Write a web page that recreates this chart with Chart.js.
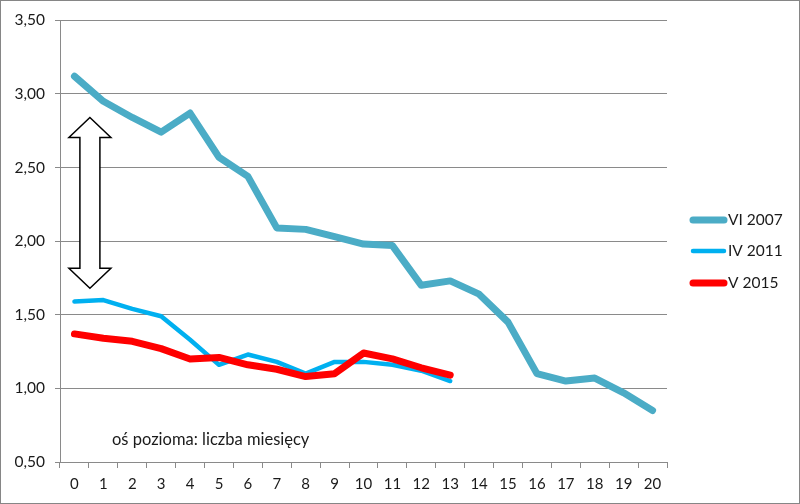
<!DOCTYPE html>
<html>
<head>
<meta charset="utf-8">
<script src="https://cdn.jsdelivr.net/npm/chart.js@4.4.1/dist/chart.umd.min.js"></script>
<style>
  html, body { margin: 0; padding: 0; background: #fff; }
  #wrap { width: 798px; height: 502px; border: 1px solid #868686; }
</style>
</head>
<body>
<div id="wrap"><canvas id="chart" width="798" height="502"></canvas></div>
<script>
const months = ['0','1','2','3','4','5','6','7','8','9','10','11','12','13','14','15','16','17','18','19','20'];
const vi2007 = [3.12, 2.95, 2.84, 2.74, 2.87, 2.57, 2.44, 2.09, 2.08, 2.03, 1.98, 1.97, 1.70, 1.73, 1.64, 1.45, 1.10, 1.05, 1.07, 0.97, 0.85];
const iv2011 = [1.59, 1.60, 1.54, 1.49, 1.33, 1.16, 1.23, 1.18, 1.10, 1.18, 1.18, 1.16, 1.12, 1.05];
const v2015 = [1.37, 1.34, 1.32, 1.27, 1.20, 1.21, 1.16, 1.13, 1.08, 1.10, 1.24, 1.20, 1.14, 1.09];
const yTicks = { min: 0.5, max: 3.5, step: 0.5 };
const note = 'oś pozioma: liczba miesięcy';
const arrowRange = [2.84, 1.68]; // range of the double arrow, in y units

const FONT = 'Lato, "Open Sans", sans-serif';
const TEXT = '#1a1a1a';
const GRID = '#8a8a8a';

// custom legend, arrow and note
const extras = {
  id: 'extras',
  afterDraw(chart) {
    const ctx = chart.ctx;
    const x = chart.scales.x, y = chart.scales.y;

    // double arrow
    const cx = (x.getPixelForValue(0) + x.getPixelForValue(1)) / 2 + 1;
    const top = y.getPixelForValue(arrowRange[0]);
    const bot = y.getPixelForValue(arrowRange[1]);
    const hw = 21, sw = 10, hh = 20;
    ctx.save();
    ctx.beginPath();
    ctx.moveTo(cx, top);
    ctx.lineTo(cx + hw, top + hh);
    ctx.lineTo(cx + sw, top + hh);
    ctx.lineTo(cx + sw, bot - hh);
    ctx.lineTo(cx + hw, bot - hh);
    ctx.lineTo(cx, bot);
    ctx.lineTo(cx - hw, bot - hh);
    ctx.lineTo(cx - sw, bot - hh);
    ctx.lineTo(cx - sw, top + hh);
    ctx.lineTo(cx - hw, top + hh);
    ctx.closePath();
    ctx.fillStyle = '#fff';
    ctx.fill();
    ctx.lineWidth = 1.5;
    ctx.strokeStyle = '#000';
    ctx.stroke();

    // note text
    ctx.fillStyle = TEXT;
    ctx.font = '16.5px ' + FONT;
    ctx.textBaseline = 'middle';
    ctx.textAlign = 'left';
    ctx.fillText(note, 111, 439);

    // legend
    ctx.font = '15.5px ' + FONT;
    const rows = [219, 250, 282];
    chart.data.datasets.forEach((ds, i) => {
      ctx.beginPath();
      ctx.lineCap = 'round';
      ctx.lineWidth = ds.borderWidth;
      ctx.strokeStyle = ds.borderColor;
      ctx.moveTo(692, rows[i]);
      ctx.lineTo(723, rows[i]);
      ctx.stroke();
      ctx.fillStyle = TEXT;
      ctx.fillText(ds.label, 727, rows[i]);
    });
    ctx.restore();
  }
};

new Chart(document.getElementById('chart'), {
  type: 'line',
  data: {
    labels: months,
    datasets: [
      { label: 'VI 2007', data: vi2007, borderColor: '#4BACC6', borderWidth: 7, order: 3 },
      { label: 'IV 2011', data: iv2011, borderColor: '#00B0F0', borderWidth: 4.5, order: 2 },
      { label: 'V 2015', data: v2015, borderColor: '#FF0000', borderWidth: 7, order: 1 }
    ].map(d => Object.assign(d, {
      pointRadius: 0, tension: 0, fill: false,
      borderJoinStyle: 'round', borderCapStyle: 'round'
    }))
  },
  options: {
    responsive: false,
    animation: false,
    layout: { padding: { top: 19, right: 132, left: 0, bottom: 0 } },
    plugins: { legend: { display: false }, tooltip: { enabled: false } },
    scales: {
      x: {
        offset: true,
        grid: { offset: true, drawOnChartArea: false, drawTicks: true, tickLength: 6, color: GRID },
        border: { color: GRID },
        ticks: { color: TEXT, font: { family: FONT, size: 15 }, padding: 7, maxRotation: 0 },
        afterFit(scale) { scale.height = 41; }
      },
      y: {
        min: yTicks.min, max: yTicks.max,
        grid: { color: GRID, tickLength: 5 },
        border: { color: GRID },
        ticks: {
          stepSize: yTicks.step, color: TEXT, font: { family: FONT, size: 15.5 }, padding: 10,
          callback: v => v.toFixed(2).replace('.', ',')
        },
        afterFit(scale) { scale.width = 59; }
      }
    }
  },
  plugins: [extras]
});
</script>
</body>
</html>
